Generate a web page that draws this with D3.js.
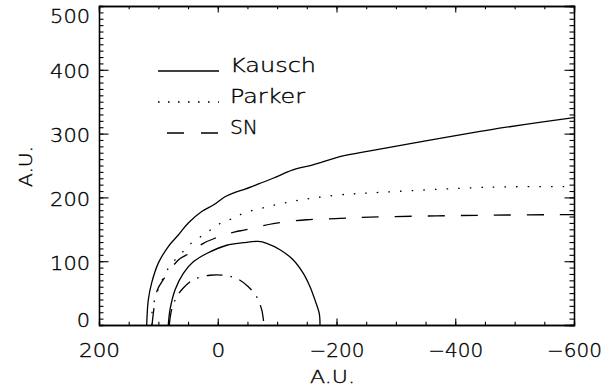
<!DOCTYPE html>
<html>
<head>
<meta charset="utf-8">
<script src="https://cdn.jsdelivr.net/npm/d3@7"></script>
<style>
  body { margin: 0; background: #fff; }
  text { font-family: "DejaVu Sans", sans-serif; font-weight: 200; fill: #000; stroke: #000; stroke-width: 0.35px; }
</style>
</head>
<body>
<div id="chart"></div>
<script>
// Curves, [x A.U., y A.U.]
var kauschOuter = [[119.7, 0], [117.0, 39], [111.3, 66], [100.1, 97], [83.3, 123], [66.4, 141],
  [49.6, 160], [27.0, 178], [7.5, 188], [-12.2, 201], [-29.1, 208], [-45.9, 213], [-71.2, 222],
  [-93.1, 230], [-126.7, 243], [-160.4, 251], [-211.0, 265], [-256.4, 273], [-458.5, 306], [-600, 325]];
var parker = [[110.7, 0], [110.2, 24], [100.6, 55], [91.7, 74], [83.3, 89], [69.1, 105], [55.2, 118],
  [41.2, 131], [24.3, 141], [7.5, 152], [-9.4, 162], [-26.2, 167], [-43.0, 175], [-82.4, 185],
  [-121.7, 193], [-160.9, 199], [-205.9, 204], [-256.4, 207], [-458.5, 216], [-600, 217]];
var sn = [[110.7, 0], [102.8, 52], [97.3, 63], [66.4, 102], [52.3, 110], [24.3, 128], [4.6, 136],
  [-29.1, 146], [-45.9, 149], [-93.6, 159], [-149.8, 165], [-205.9, 167], [-256.4, 169],
  [-441.7, 172], [-600, 173]];
var kauschInner = [[83.3, 0], [80.4, 24], [72.0, 55], [58.0, 81], [41.2, 99], [18.6, 112],
  [-15.1, 125], [-43.0, 129], [-68.3, 131], [-82.4, 128], [-104.8, 118], [-127.2, 102],
  [-144.1, 81], [-155.4, 60], [-163.8, 39], [-171.0, 18], [-172.2, 0]];
var innerDashDot = [[81.6, 0], [77.6, 24], [69.1, 44], [58.0, 58], [41.2, 71], [13.1, 78],
  [-9.4, 78], [-31.9, 73], [-51.5, 60], [-65.6, 44], [-74.0, 24], [-77.9, 0]];

var legendLabels = ['Kausch', 'Parker', 'SN'];
var xTicks = [200, 0, -200, -400, -600];
var yTicks = [0, 100, 200, 300, 400, 500];

var svgWidth = 616, svgHeight = 389;
// plot box edges (pixels)
var plotLeft = 99, plotRight = 574, plotTop = 6, plotBottom = 325;

var svg = d3.select('#chart').append('svg')
  .attr('width', svgWidth)
  .attr('height', svgHeight);

var xScale = d3.scaleLinear().domain([200, -600]).range([plotLeft, plotRight]);
var yScale = d3.scaleLinear().domain([0, 500]).range([plotBottom, plotTop]);

var minorX = d3.range(200, -601, -50);
var minorY = d3.range(0, 501, 10);

// Axes: ticks point inward on all four sides
function styleAxis(g) {
  g.selectAll('.domain').attr('stroke', '#000').attr('stroke-width', 1.3);
  g.selectAll('.tick line').attr('stroke', '#000').attr('stroke-width', 1.1);
}

svg.append('g').attr('transform', `translate(0,${plotBottom})`)
  .call(d3.axisBottom(xScale).tickValues(minorX).tickSize(-3.2).tickFormat('')).call(styleAxis);
var xAxisG = svg.append('g').attr('transform', `translate(0,${plotBottom})`)
  .call(d3.axisBottom(xScale).tickValues(xTicks).tickSize(-6.4).tickSizeOuter(0)).call(styleAxis);
svg.append('g').attr('transform', `translate(0,${plotTop})`)
  .call(d3.axisTop(xScale).tickValues(minorX).tickSize(-3.2).tickFormat('')).call(styleAxis);
svg.append('g').attr('transform', `translate(0,${plotTop})`)
  .call(d3.axisTop(xScale).tickValues(xTicks).tickSize(-6.4).tickFormat('')).call(styleAxis);

svg.append('g').attr('transform', `translate(${plotLeft},0)`)
  .call(d3.axisLeft(yScale).tickValues(minorY).tickSize(-4.5).tickFormat('')).call(styleAxis);
var yAxisG = svg.append('g').attr('transform', `translate(${plotLeft},0)`)
  .call(d3.axisLeft(yScale).tickValues(yTicks).tickSize(-9.5).tickSizeOuter(0)).call(styleAxis);
svg.append('g').attr('transform', `translate(${plotRight},0)`)
  .call(d3.axisRight(yScale).tickValues(minorY).tickSize(-4.5).tickFormat('')).call(styleAxis);
svg.append('g').attr('transform', `translate(${plotRight},0)`)
  .call(d3.axisRight(yScale).tickValues(yTicks).tickSize(-9.5).tickFormat('')).call(styleAxis);

// Tick labels in the wide plotting font
xAxisG.selectAll('.tick text')
  .attr('y', 32).attr('dy', 0)
  .attr('font-size', 19)
  .attr('textLength', function(d) { return String(d).length * 13.7; })
  .attr('lengthAdjust', 'spacingAndGlyphs');

yAxisG.selectAll('.tick text')
  .attr('x', -9).attr('dy', function(d) {
    if (d === 0) return 1;
    if (d === 500) return 16;
    return 8;
  })
  .attr('font-size', 19)
  .attr('textLength', function(d) { return String(d).length * 13.3; })
  .attr('lengthAdjust', 'spacingAndGlyphs');

// Axis titles
svg.append('text')
  .attr('x', (plotLeft + plotRight) / 2 - 4).attr('y', 383)
  .attr('text-anchor', 'middle').attr('font-size', 18)
  .attr('textLength', 45).attr('lengthAdjust', 'spacingAndGlyphs')
  .text('A.U.');

svg.append('text')
  .attr('transform', `translate(32, ${(plotTop + plotBottom) / 2 + 1}) rotate(-90)`)
  .attr('text-anchor', 'middle').attr('font-size', 18)
  .attr('textLength', 41).attr('lengthAdjust', 'spacingAndGlyphs')
  .text('A.U.');

// Curves
var line = d3.line()
  .x(d => xScale(d[0]))
  .y(d => yScale(d[1]))
  .curve(d3.curveCatmullRom.alpha(0.5));

var curves = [
  { data: kauschOuter, dash: null },
  { data: kauschInner, dash: null },
  { data: parker, dash: '1.6,10' },
  { data: sn, dash: '17,16' },
  { data: innerDashDot, dash: '16,8,1.6,8' }
];

svg.append('defs').append('clipPath').attr('id', 'plotClip')
  .append('rect').attr('x', plotLeft).attr('y', plotTop)
  .attr('width', plotRight - plotLeft).attr('height', plotBottom - plotTop);

svg.append('g').attr('clip-path', 'url(#plotClip)')
  .selectAll('path')
  .data(curves)
  .enter()
  .append('path')
  .attr('d', d => line(d.data))
  .attr('fill', 'none')
  .attr('stroke', '#000')
  .attr('stroke-width', 1.3)
  .attr('stroke-dasharray', d => d.dash);

// Legend
var legendY = [71, 102, 133];
var legendDash = [null, '1.6,8.4', '17,17'];
var legendStart = [158, 158, 167];

var legend = svg.append('g');
legend.selectAll('line')
  .data(legendLabels)
  .enter()
  .append('line')
  .attr('x1', (d, i) => legendStart[i])
  .attr('x2', 219)
  .attr('y1', (d, i) => legendY[i])
  .attr('y2', (d, i) => legendY[i])
  .attr('stroke', '#000')
  .attr('stroke-width', 1.3)
  .attr('stroke-dasharray', (d, i) => legendDash[i]);

var legendWidth = [86, 75, 28];
legend.selectAll('text')
  .data(legendLabels)
  .enter()
  .append('text')
  .attr('x', 230)
  .attr('y', (d, i) => legendY[i] + 1)
  .attr('font-size', 19.5)
  .attr('textLength', (d, i) => legendWidth[i])
  .attr('lengthAdjust', 'spacingAndGlyphs')
  .text(d => d);
</script>
</body>
</html>
